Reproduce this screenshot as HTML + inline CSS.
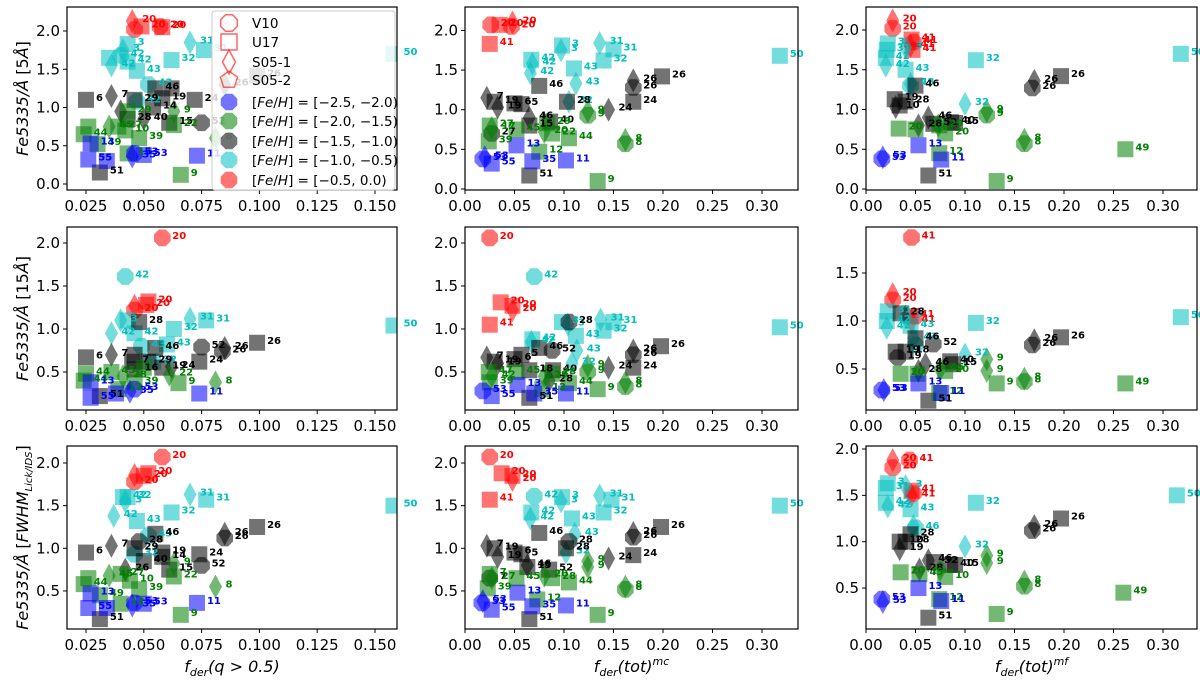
<!DOCTYPE html>
<html><head><meta charset="utf-8"><style>
body{margin:0;background:#fff;}
svg{display:block;font-family:"DejaVu Sans","Liberation Sans",sans-serif;}
</style></head><body>
<svg id="fig" width="1200" height="686" viewBox="0 0 1200 686" xmlns="http://www.w3.org/2000/svg"></svg>
<script>
// data: [x, y, group+marker, label]; groups b,g,k,c,r ; markers s(square) o(octagon) d(diamond) p(pentagon)
const p11=[[0.045,2.13,'rd','20'],[0.046,2.02,'ro',''],[0.049,2.06,'rs','20'],[0.057,2.06,'ro','20'],[0.058,2.05,'rs','20'],
[0.043,1.83,'cs','3'],[0.041,1.75,'cd','3'],[0.040,1.68,'co','42'],[0.036,1.55,'cd','42'],[0.035,1.65,'cs',''],[0.043,1.60,'cs','42'],[0.047,1.48,'cs','43'],[0.052,1.30,'co','43'],[0.062,1.62,'cs','32'],[0.070,1.85,'cd','31'],[0.076,1.75,'cs','31'],[0.158,1.70,'cs','50'],[0.047,1.08,'co','32'],
[0.025,1.10,'ks','6'],[0.036,1.15,'kd','7'],[0.046,1.10,'ks','29'],[0.055,1.25,'ks','46'],[0.062,1.25,'ks',''],[0.058,1.12,'ks','19'],[0.072,1.10,'ks','24'],[0.085,1.30,'kd','26'],[0.099,1.42,'ks','26'],[0.075,0.80,'ko','52'],[0.061,0.80,'ks','15'],[0.050,0.85,'kd','40'],[0.043,0.85,'ks','28'],[0.040,0.95,'kd',''],[0.031,0.15,'ks','51'],[0.054,1.0,'ks','14'],
[0.024,0.65,'gs','44'],[0.026,0.75,'gs',''],[0.030,0.52,'gs','49'],[0.035,0.75,'gd','45'],[0.039,0.75,'gs','27'],[0.042,0.70,'gs','10'],[0.048,0.60,'gs','39'],[0.043,0.95,'gs','29'],[0.063,0.95,'gd','9'],[0.063,0.77,'gs','22'],[0.081,0.60,'gd','8'],[0.066,0.12,'gs','9'],[0.043,0.40,'gs','12'],
[0.027,0.53,'bs','13'],[0.026,0.32,'bs','55'],[0.045,0.36,'bd','35'],[0.046,0.40,'bo','53'],[0.050,0.38,'bs','53'],[0.073,0.37,'bs','11'],[0.034,0.30,'bs','']];
const p12=[[0.026,2.07,'ro','20'],[0.035,2.07,'rs','20'],[0.048,2.10,'rd','20'],[0.047,2.05,'ro','20'],[0.025,1.83,'rs','41'],
[0.098,1.81,'cs','3'],[0.097,1.75,'cd','3'],[0.136,1.84,'cd','31'],[0.150,1.76,'cs','31'],[0.140,1.62,'cs','32'],[0.067,1.63,'cs','42'],[0.068,1.58,'cd','42'],[0.110,1.52,'cs','43'],[0.112,1.33,'cd','43'],[0.105,1.10,'cd','32'],[0.318,1.68,'cs','50'],[0.066,1.46,'cd','42'],
[0.022,1.15,'kd','7'],[0.030,1.10,'ks','19'],[0.033,1.03,'kd','19'],[0.050,1.08,'ks','6'],[0.057,1.07,'ks','5'],[0.075,1.30,'ks','46'],[0.065,0.90,'kd','46'],[0.065,0.80,'ks','15'],[0.103,1.10,'ks','28'],[0.145,1.00,'kd','24'],[0.170,1.37,'kd','26'],[0.170,1.28,'ko','26'],[0.199,1.42,'ks','26'],[0.170,1.10,'ks','24'],[0.086,0.85,'ks','40'],[0.065,0.17,'ks','51'],[0.027,0.70,'ko','27'],
[0.025,0.80,'gs','27'],[0.027,0.77,'gd','17'],[0.024,0.60,'gs','39'],[0.052,0.75,'gs','45'],[0.083,0.83,'gs','29'],[0.080,0.72,'gd','20'],[0.088,0.70,'gs','22'],[0.105,0.64,'gs','44'],[0.124,0.98,'gd','9'],[0.124,0.93,'go','9'],[0.162,0.62,'gd','8'],[0.162,0.57,'go','8'],[0.075,0.47,'gs','12'],[0.134,0.10,'gs','9'],
[0.018,0.38,'bo','53'],[0.020,0.40,'bd','53'],[0.027,0.32,'bs','55'],[0.052,0.55,'bs','13'],[0.068,0.35,'bs','35'],[0.102,0.36,'bs','11']];
const p13=[[0.027,2.12,'rd','20'],[0.027,2.02,'ro','20'],[0.046,1.88,'rs','41'],[0.045,1.80,'rd','41'],[0.047,1.75,'rs','41'],[0.048,1.85,'ro','41'],
[0.022,1.83,'cs','3'],[0.021,1.75,'cs','31'],[0.020,1.65,'cs','42'],[0.020,1.55,'cd','42'],[0.040,1.78,'cd','3'],[0.040,1.50,'cs','43'],[0.045,1.32,'cd','43'],[0.045,1.30,'co',''],[0.111,1.62,'cs','32'],[0.100,1.07,'cd','32'],[0.318,1.70,'cs','50'],
[0.029,1.13,'ks','19'],[0.030,1.03,'kd','10'],[0.034,1.05,'ks',''],[0.040,1.10,'ks','28'],[0.050,1.30,'ks','46'],[0.063,0.90,'kd','46'],[0.053,0.80,'kd','28'],[0.068,0.82,'ks','52'],[0.086,0.84,'ks','40'],[0.090,0.83,'ks','15'],[0.170,1.36,'kd','26'],[0.168,1.27,'ko','26'],[0.197,1.42,'ks','26'],[0.063,0.17,'ks','51'],
[0.033,0.76,'gs','20'],[0.050,0.75,'gs',''],[0.074,0.80,'gs','29'],[0.080,0.70,'gs','20'],[0.073,0.80,'gd',''],[0.122,0.98,'gd','9'],[0.122,0.93,'go','9'],[0.160,0.62,'gd','8'],[0.160,0.57,'go','8'],[0.262,0.50,'gs','49'],[0.074,0.45,'gs','12'],[0.132,0.10,'gs','9'],
[0.016,0.38,'bo','53'],[0.017,0.40,'bd','53'],[0.053,0.55,'bs','13'],[0.076,0.37,'bs','11']];
const p21=[[0.058,2.06,'ro','20'],[0.046,1.27,'rd',''],[0.046,1.22,'ro','20'],[0.052,1.32,'rs','20'],[0.051,1.28,'rs','20'],
[0.042,1.61,'co','42'],[0.040,1.10,'cd','3'],[0.043,1.10,'cs',''],[0.036,0.95,'cd','42'],[0.046,0.95,'cs','42'],[0.049,0.80,'co','43'],[0.063,1.00,'cs','32'],[0.070,1.12,'cd','31'],[0.077,1.10,'cs','31'],[0.158,1.04,'cs','50'],[0.054,0.62,'cs','32'],[0.060,0.82,'cs','43'],
[0.025,0.67,'ks','6'],[0.036,0.70,'kd','7'],[0.045,0.62,'ks','7'],[0.046,0.70,'ks',''],[0.055,0.78,'ks','46'],[0.052,0.62,'ks','29'],[0.058,0.55,'ks','19'],[0.062,0.56,'kd','24'],[0.074,0.62,'ks','24'],[0.075,0.79,'ko','52'],[0.085,0.78,'kd','26'],[0.084,0.74,'ko','26'],[0.099,0.84,'ks','26'],[0.048,1.08,'ks','28'],[0.031,0.22,'ks','51'],[0.046,0.53,'ks','16'],
[0.025,0.48,'gs','44'],[0.024,0.40,'gs','44'],[0.036,0.50,'gs','45'],[0.041,0.45,'gd','28'],[0.046,0.38,'gs','39'],[0.065,0.37,'gs','9'],[0.061,0.47,'gd','22'],[0.081,0.38,'gd','8'],[0.039,0.30,'gs','12'],[0.050,0.55,'gs',''],
[0.027,0.38,'bs','13'],[0.027,0.20,'bs','55'],[0.038,0.25,'bs',''],[0.044,0.27,'bd','35'],[0.046,0.30,'bo','53'],[0.074,0.25,'bs','11']];
const p22=[[0.025,2.06,'ro','20'],[0.036,1.31,'rs','20'],[0.048,1.27,'rs','20'],[0.048,1.22,'rd','20'],[0.025,1.05,'rs','41'],
[0.070,1.61,'co','42'],[0.068,0.88,'cs','42'],[0.067,0.85,'cd','42'],[0.098,1.08,'cs','3'],[0.104,1.05,'cd','3'],[0.137,1.11,'cd','31'],[0.150,1.08,'cs','31'],[0.140,0.98,'cs','32'],[0.112,0.92,'cs','43'],[0.113,0.75,'cd','43'],[0.108,0.60,'cd','32'],[0.318,1.02,'cs','50'],
[0.022,0.67,'kd','7'],[0.030,0.62,'ks','19'],[0.033,0.60,'kd','19'],[0.050,0.65,'ks','6'],[0.057,0.70,'ks','5'],[0.075,0.78,'ks','46'],[0.088,0.75,'ko','52'],[0.105,1.08,'ko','28'],[0.065,0.52,'ks','18'],[0.089,0.52,'ks','40'],[0.145,0.55,'kd','24'],[0.170,0.75,'kd','26'],[0.170,0.70,'ko','26'],[0.198,0.80,'ks','26'],[0.170,0.55,'ks','24'],[0.065,0.20,'ks','51'],[0.085,0.40,'kd','28'],
[0.024,0.50,'gs','47'],[0.027,0.45,'gd','42'],[0.025,0.38,'gs','39'],[0.052,0.50,'gs','45'],[0.080,0.45,'gd','29'],[0.088,0.48,'gs','28'],[0.105,0.37,'gs','44'],[0.124,0.57,'gd','9'],[0.124,0.50,'go','9'],[0.134,0.30,'gs','9'],[0.162,0.38,'gd','8'],[0.162,0.33,'go','8'],[0.078,0.30,'gs','12'],
[0.018,0.28,'bo','53'],[0.027,0.22,'bs','55'],[0.053,0.35,'bs','13'],[0.070,0.25,'bs','35'],[0.102,0.25,'bs','11']];
const p23=[[0.046,1.87,'ro','41'],[0.027,1.28,'rd','20'],[0.027,1.22,'ro','20'],[0.045,1.05,'rs','41'],[0.046,1.00,'rd','41'],[0.050,1.05,'ro',''],
[0.022,1.10,'cs','31'],[0.021,1.00,'cs','42'],[0.021,0.93,'cd','42'],[0.040,1.05,'cd','3'],[0.045,0.95,'cs','43'],[0.048,0.82,'cd','43'],[0.050,0.75,'co',''],[0.111,0.98,'cs','32'],[0.100,0.65,'cd','32'],[0.318,1.04,'cs','50'],
[0.035,1.08,'ks','28'],[0.030,0.68,'ks','19'],[0.032,0.62,'ko','19'],[0.040,0.68,'ks','18'],[0.050,0.82,'ks','46'],[0.068,0.76,'ko','52'],[0.060,0.55,'kd','46'],[0.053,0.48,'kd','28'],[0.085,0.58,'ks','40'],[0.088,0.55,'ks','15'],[0.170,0.80,'kd','26'],[0.168,0.75,'ko','26'],[0.197,0.83,'ks','26'],[0.063,0.17,'ks','51'],
[0.035,0.45,'gs','20'],[0.052,0.45,'gs',''],[0.075,0.50,'gd','45'],[0.080,0.48,'gs','20'],[0.122,0.60,'gd','9'],[0.122,0.48,'gd','9'],[0.132,0.35,'gs','9'],[0.160,0.40,'gd','8'],[0.160,0.37,'go','8'],[0.262,0.35,'gs','49'],[0.074,0.25,'gs','12'],
[0.016,0.28,'bo','53'],[0.018,0.28,'bd','53'],[0.053,0.35,'bs','13'],[0.076,0.25,'bs','11']];
const p31=[[0.058,2.07,'ro','20'],[0.046,1.86,'rd',''],[0.046,1.78,'ro','20'],[0.052,1.88,'rs','20'],[0.050,1.85,'rs','20'],
[0.043,1.60,'cs','32'],[0.042,1.55,'cd','3'],[0.037,1.38,'cd','42'],[0.047,1.32,'cs','43'],[0.062,1.42,'cs','32'],[0.070,1.63,'cd','31'],[0.077,1.57,'cs','31'],[0.052,1.15,'co','43'],[0.046,0.93,'co','32'],[0.158,1.50,'cs','50'],[0.041,1.60,'cs','42'],
[0.025,0.95,'ks','6'],[0.036,1.03,'kd','7'],[0.046,1.00,'ks','29'],[0.055,1.17,'ks','46'],[0.048,1.08,'ko','28'],[0.058,0.95,'ks','19'],[0.074,0.93,'ks','24'],[0.075,0.80,'ko','52'],[0.085,1.17,'kd','26'],[0.085,1.12,'ko','26'],[0.099,1.25,'ks','26'],[0.061,0.75,'ks','15'],[0.042,0.75,'kd','26'],[0.050,0.85,'ks','40'],[0.031,0.17,'ks','51'],[0.058,0.90,'ks','14'],
[0.024,0.58,'gs','44'],[0.026,0.65,'gs',''],[0.031,0.45,'gs','49'],[0.035,0.68,'gd','45'],[0.040,0.70,'gs','27'],[0.044,0.62,'gs','10'],[0.048,0.52,'gs','39'],[0.063,0.82,'gd','9'],[0.063,0.67,'gs','22'],[0.081,0.55,'gd','8'],[0.066,0.22,'gs','9'],[0.040,0.35,'gs','12'],
[0.027,0.47,'bs','13'],[0.026,0.30,'bs','55'],[0.045,0.33,'bd','35'],[0.046,0.36,'bo','53'],[0.050,0.35,'bs','53'],[0.073,0.36,'bs','11'],[0.034,0.30,'bs','']];
const p32=[[0.025,2.07,'ro','20'],[0.037,1.88,'rs','20'],[0.048,1.85,'rs','20'],[0.048,1.80,'rd','20'],[0.025,1.57,'rs','41'],
[0.070,1.61,'co','42'],[0.067,1.42,'cs','42'],[0.066,1.35,'cd','42'],[0.098,1.60,'cs','3'],[0.097,1.55,'cd','3'],[0.136,1.62,'cd','31'],[0.148,1.57,'cs','31'],[0.140,1.42,'cs','32'],[0.108,1.35,'cs','43'],[0.111,1.17,'cd','43'],[0.102,0.95,'cd','32'],[0.318,1.50,'cs','50'],
[0.022,1.03,'kd','7'],[0.030,1.00,'ks','19'],[0.033,0.90,'kd','19'],[0.050,0.95,'ks','6'],[0.057,0.93,'ks','5'],[0.075,1.18,'ks','46'],[0.063,0.80,'kd','46'],[0.063,0.78,'ks','15'],[0.102,1.00,'ks','28'],[0.105,1.08,'ko','28'],[0.145,0.88,'kd','24'],[0.170,1.18,'kd','26'],[0.170,1.13,'ko','26'],[0.198,1.25,'ks','26'],[0.170,0.92,'ks','24'],[0.085,0.75,'ks','52'],[0.065,0.17,'ks','51'],[0.025,0.65,'ko','7'],
[0.025,0.70,'gs','7'],[0.027,0.65,'gd','27'],[0.023,0.53,'gs','39'],[0.052,0.65,'gs','45'],[0.080,0.68,'gd','20'],[0.088,0.65,'gs','28'],[0.105,0.60,'gs','44'],[0.124,0.85,'gd','9'],[0.124,0.78,'gd','9'],[0.162,0.55,'gd','8'],[0.162,0.52,'go','8'],[0.073,0.40,'gs','12'],[0.134,0.22,'gs','9'],
[0.017,0.36,'bo','53'],[0.018,0.38,'bd','53'],[0.027,0.28,'bs','55'],[0.053,0.48,'bs','13'],[0.068,0.32,'bs','35'],[0.102,0.33,'bs','11']];
const p33=[[0.027,1.88,'rd','20'],[0.027,1.80,'ro','20'],[0.044,1.88,'ro','41'],[0.046,1.55,'rs','41'],[0.046,1.50,'rd','41'],[0.048,1.52,'ro',''],
[0.022,1.63,'cs','3'],[0.020,1.58,'cs','31'],[0.020,1.42,'cs','42'],[0.022,1.38,'cd','42'],[0.040,1.60,'cd','3'],[0.045,1.35,'cs','43'],[0.048,1.17,'cd',''],[0.050,1.15,'co','46'],[0.111,1.42,'cs','32'],[0.100,0.95,'cd','32'],[0.314,1.50,'cs','50'],
[0.034,1.00,'ks','10'],[0.034,0.92,'kd','19'],[0.040,1.00,'ks','28'],[0.045,1.08,'ks','28'],[0.063,0.80,'kd','46'],[0.069,0.78,'ks','52'],[0.054,0.70,'kd','28'],[0.085,0.75,'ks','40'],[0.090,0.75,'ks','15'],[0.170,1.17,'kd','26'],[0.168,1.12,'ko','26'],[0.197,1.25,'ks','26'],[0.063,0.18,'ks','51'],
[0.035,0.67,'gs','20'],[0.054,0.65,'gs','45'],[0.075,0.70,'gd',''],[0.080,0.62,'gs','10'],[0.122,0.85,'gd','9'],[0.122,0.77,'gd','9'],[0.132,0.22,'gs','9'],[0.160,0.57,'gd','8'],[0.160,0.52,'go','8'],[0.260,0.45,'gs','49'],[0.074,0.38,'gs','12'],
[0.016,0.38,'bo','53'],[0.017,0.35,'bd','53'],[0.053,0.50,'bs','13'],[0.076,0.36,'bs','11']];

const xticksA=[0.025,0.050,0.075,0.100,0.125,0.150];
const xticksB=[0.00,0.05,0.10,0.15,0.20,0.25,0.30];
const yticksFull=[0.0,0.5,1.0,1.5,2.0];
const yticksR2=[0.5,1.0,1.5,2.0];
const yticksR23=[0.5,1.0,1.5];
const legendLabels=['V10','U17','S05-1','S05-2','[−2.5, −2.0)','[−2.0, −1.5)','[−1.5, −1.0)','[−1.0, −0.5)','[−0.5, 0.0)'];

const NS='http://www.w3.org/2000/svg';
const svg=document.getElementById('fig');
const FILL={b:'rgba(0,0,255,0.55)',g:'rgba(0,128,0,0.55)',k:'rgba(0,0,0,0.55)',c:'rgba(0,191,191,0.55)',r:'rgba(255,0,0,0.55)'};
const TXT={b:'#0000ff',g:'#008000',k:'#000',c:'#00bfbf',r:'#ff0000'};
function el(t,a,p){const e=document.createElementNS(NS,t);for(const k in a)e.setAttribute(k,a[k]);(p||svg).appendChild(e);return e;}
function poly(n,cx,cy,r,rot){const pts=[];for(let i=0;i<n;i++){const a=rot+i*2*Math.PI/n;pts.push((cx+r*Math.cos(a)).toFixed(1)+','+(cy+r*Math.sin(a)).toFixed(1));}return pts.join(' ');}
function marker(m,cx,cy,g,fill,stroke){
  let e;
  if(m==='s') e=el('rect',{x:cx-8,y:cy-8,width:16,height:16},g);
  else if(m==='d') e=el('polygon',{points:`${cx},${cy-12} ${cx+6.5},${cy} ${cx},${cy+12} ${cx-6.5},${cy}`},g);
  else if(m==='p') e=el('polygon',{points:poly(5,cx,cy,9,-Math.PI/2)},g);
  else e=el('polygon',{points:poly(8,cx,cy,9,Math.PI/8)},g);
  e.setAttribute('fill',fill);
  if(stroke){e.setAttribute('stroke',stroke);e.setAttribute('stroke-width','1.5');}
  return e;
}
const cols=[{l:67,r:397,xt:xticksA,xs:x=>86+(x-0.025)*2312,fmt:v=>v.toFixed(3)},
            {l:465,r:798,xt:xticksB,xs:x=>465+x*990,fmt:v=>v.toFixed(2)},
            {l:866,r:1197,xt:xticksB,xs:x=>866+x*990,fmt:v=>v.toFixed(2)}];
const rows=[{t:7,b:190},{t:227,b:410},{t:446,b:629}];
const ymaps=[[[0,184,76.5],[0,189,79.3],[0,189,79.5]],
             [[2,243,86],[2,243,86],[1.5,273,96]],
             [[2,463,85.3],[2,463,85.3],[2,449,92.7]]];
const yticksAll=[[yticksFull,yticksFull,yticksFull],[yticksR2,yticksR2,yticksR23],[yticksR2,yticksR2,yticksFull.slice(1)]];
const panels=[[p11,p12,p13],[p21,p22,p23],[p31,p32,p33]];
const ylabelSub=['[5Å]','[15Å]',null];
const xlabels=[['f','der','(q > 0.5)',''],['f','der','(tot)','mc'],['f','der','(tot)','mf']];

for(let ri=0;ri<3;ri++)for(let ci=0;ci<3;ci++){
  const C=cols[ci],R=rows[ri],ym=ymaps[ri][ci];
  const ys=v=>ym[1]-(v-ym[0])*ym[2];
  const g=el('g',{});
  
  
  const cid='clip'+ri+ci;
  const cp=el('clipPath',{id:cid},g);el('rect',{x:C.l,y:R.t,width:C.r-C.l,height:R.b-R.t},cp);
  const pts=el('g',{'clip-path':`url(#${cid})`},g);
  
  
  for(const d of panels[ri][ci]){
    const px=C.xs(d[0]),py=ys(d[1]),grp=d[2][0],m=d[2][1];
    const mk=marker(m,px,py,pts,FILL[grp]);
    
    
  }
  const lbls=el('g',{},g);
  
  
  for(const d of panels[ri][ci]){
    if(!d[3])continue;
    const px=C.xs(d[0]),py=ys(d[1]),grp=d[2][0];
    const t=el('text',{x:px+10,y:py+1,fill:TXT[grp],'font-size':'10','font-weight':'bold'},lbls);
    
    
    t.textContent=d[3];
  }
  const fr=el('rect',{x:C.l,y:R.t,width:C.r-C.l,height:R.b-R.t,fill:'none',stroke:'#000','stroke-width':'1.2'},g);
  
  
  for(const v of C.xt){const x=C.xs(v);
    el('line',{x1:x,y1:R.b,x2:x,y2:R.b+4,stroke:'#000'},g);
    const t=el('text',{x:x,y:R.b+21,'text-anchor':'middle','font-size':'15',fill:'#000'},g);
    
    
    t.textContent=C.fmt(v);}
  for(const v of yticksAll[ri][ci]){const y=ys(v);
    el('line',{x1:C.l-4,y1:y,x2:C.l,y2:y,stroke:'#000'},g);
    const t=el('text',{x:C.l-7,y:y+5,'text-anchor':'end','font-size':'15',fill:'#000'},g);
    
    
    t.textContent=v.toFixed(1);}
  if(ri===2){
    const L=xlabels[ci];const cx=(C.l+C.r)/2;
    const t=el('text',{x:cx,y:672,'text-anchor':'middle','font-size':'16',fill:'#000'},g);
    
    
    t.innerHTML=`<tspan font-style="italic">${L[0]}</tspan><tspan font-style="italic" font-size="11" dy="4">${L[1]}</tspan><tspan font-style="italic" dy="-4">${L[2]}</tspan>`+(L[3]?`<tspan font-style="italic" font-size="11" dy="-7">${L[3]}</tspan>`:'');
  }
  if(ci===0){
    const cy=(R.t+R.b)/2;
    const t=el('text',{x:0,y:0,'text-anchor':'middle','font-size':'16',fill:'#000',transform:`translate(28,${cy}) rotate(-90)`},g);
    
    
    if(ylabelSub[ri]) t.innerHTML=`<tspan font-style="italic">Fe5335/Å</tspan>  [${ylabelSub[ri].slice(1,-2)}<tspan font-style="italic">Å</tspan>]`;
    else t.innerHTML=`<tspan font-style="italic">Fe5335/Å</tspan>  [<tspan font-style="italic">FWHM</tspan><tspan font-style="italic" font-size="10" dy="4">Lick/IDS</tspan><tspan dy="-4">]</tspan>`;
  }
}
const lg=el('g',{});


el('rect',{x:212,y:11,width:183,height:179,rx:3,fill:'rgba(255,255,255,0.82)',stroke:'#ccc'},lg);
const lmk=['o','s','d','p'];
const lgrp=['b','g','k','c','r'];
const lys=[23,42,62,80,102,121,141,160,180];
for(let i=0;i<9;i++){
  const e=el('g',{},lg);
  
  
  if(i<4) marker(lmk[i],229,lys[i],e,'none','rgba(255,0,0,0.6)');
  else marker('o',229,lys[i],e,FILL[lgrp[i-4]]);
  const t=el('text',{x:252,y:lys[i]+5,'font-size':'13.5',fill:'#000'},e);
  if(i<4) t.textContent=legendLabels[i];
  else t.innerHTML=`[<tspan font-style="italic">Fe</tspan>/<tspan font-style="italic">H</tspan>] = ${legendLabels[i]}`;
}
</script>
</body></html>
